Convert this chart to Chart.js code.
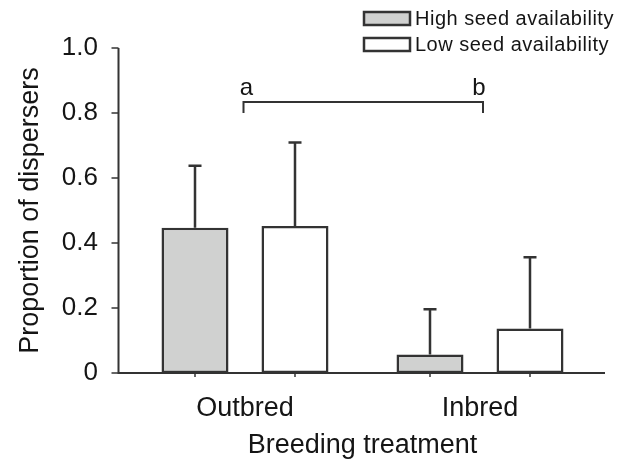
<!DOCTYPE html>
<html>
<head>
<meta charset="utf-8">
<script src="https://cdn.jsdelivr.net/npm/chart.js@4.4.1/dist/chart.umd.min.js"></script>
<style>
  html, body { margin: 0; padding: 0; background: #fff; }
  #wrap { width: 626px; height: 462px; }
</style>
</head>
<body>
<div id="wrap"><canvas id="dispersalChart" width="626" height="462"></canvas></div>
<script>
// categories and series
const treatments = ["Outbred", "Inbred"];
const seriesLabels = ["High seed availability", "Low seed availability"];
const highSeedMeans = [0.447, 0.057];
const lowSeedMeans = [0.452, 0.137];
// upper error bars (added on top of the mean)
const highSeedErrors = [0.191, 0.139];
const lowSeedErrors = [0.257, 0.219];
const yTicks = [0, 0.2, 0.4, 0.6, 0.8, 1.0];
const signifLetters = ["a", "b"];
const signifLevel = 0.834;
const signifTipLevel = 0.8;

const FONT = "'Liberation Sans', Arial, sans-serif";
const INK = "#151515";
const LINE = "#333";

// axes, error bars, bracket and legend drawn on top of the bars
const extrasPlugin = {
  id: "extras",
  afterDatasetsDraw: (chart) => {
    const { ctx, chartArea } = chart;
    const xs = chart.scales.x;
    const ys = chart.scales.y;
    const axisX = chartArea.left - 9;
    const axisY = chartArea.bottom;

    ctx.save();
    ctx.strokeStyle = LINE;
    ctx.lineCap = "butt";

    // error bars
    ctx.lineWidth = 2.5;
    chart.data.datasets.forEach((ds, di) => {
      const meta = chart.getDatasetMeta(di);
      meta.data.forEach((bar, i) => {
        const top = ys.getPixelForValue(ds.data[i] + ds.errors[i]);
        ctx.beginPath();
        ctx.moveTo(bar.x, bar.y);
        ctx.lineTo(bar.x, top);
        ctx.moveTo(bar.x - 6.5, top);
        ctx.lineTo(bar.x + 6.5, top);
        ctx.stroke();
      });
    });

    // axis lines
    ctx.lineWidth = 2;
    ctx.beginPath();
    ctx.moveTo(axisX, ys.getPixelForValue(1.0));
    ctx.lineTo(axisX, axisY);
    ctx.lineTo(chartArea.right + 7.5, axisY);
    ctx.stroke();

    // y tick marks
    ctx.lineWidth = 1.5;
    yTicks.forEach((v) => {
      const py = ys.getPixelForValue(v);
      ctx.beginPath();
      ctx.moveTo(axisX - 7, py);
      ctx.lineTo(axisX, py);
      ctx.stroke();
    });

    // small x ticks under every bar
    chart.data.datasets.forEach((ds, di) => {
      chart.getDatasetMeta(di).data.forEach((bar) => {
        ctx.beginPath();
        ctx.moveTo(bar.x, axisY);
        ctx.lineTo(bar.x, axisY + 4);
        ctx.stroke();
      });
    });

    // significance bracket
    const bx1 = xs.getPixelForValue(0) - 1.5;
    const bx2 = xs.getPixelForValue(1) + 3;
    const by = ys.getPixelForValue(signifLevel);
    const bt = ys.getPixelForValue(signifTipLevel);
    ctx.lineWidth = 2;
    ctx.beginPath();
    ctx.moveTo(bx1, bt);
    ctx.lineTo(bx1, by);
    ctx.lineTo(bx2, by);
    ctx.lineTo(bx2, bt);
    ctx.stroke();

    ctx.fillStyle = INK;
    ctx.font = `24px ${FONT}`;
    ctx.textAlign = "center";
    ctx.textBaseline = "alphabetic";
    ctx.fillText(signifLetters[0], bx1 + 3, by - 7);
    ctx.fillText(signifLetters[1], bx2 - 4, by - 7);

    // legend
    const rowsY = [18.5, 44.5];
    ctx.font = `20px ${FONT}`;
    ctx.letterSpacing = "0.5px";
    ctx.textAlign = "left";
    ctx.textBaseline = "middle";
    chart.data.datasets.forEach((ds, di) => {
      const ry = rowsY[di];
      ctx.fillStyle = ds.backgroundColor;
      ctx.fillRect(364, ry - 6.5, 46, 13);
      ctx.lineWidth = 2.5;
      ctx.strokeStyle = LINE;
      ctx.strokeRect(364, ry - 6.5, 46, 13);
      ctx.fillStyle = INK;
      ctx.fillText(ds.label, 415, ry + 1);
    });

    ctx.restore();
  },
};

const ctx = document.getElementById("dispersalChart").getContext("2d");

new Chart(ctx, {
  type: "bar",
  data: {
    labels: treatments,
    datasets: [
      {
        label: seriesLabels[0],
        data: highSeedMeans,
        errors: highSeedErrors,
        backgroundColor: "#d0d1d0",
        borderColor: LINE,
        borderWidth: 2.5,
        borderSkipped: false,
        barPercentage: 0.67,
        categoryPercentage: 0.851,
      },
      {
        label: seriesLabels[1],
        data: lowSeedMeans,
        errors: lowSeedErrors,
        backgroundColor: "#ffffff",
        borderColor: LINE,
        borderWidth: 2.5,
        borderSkipped: false,
        barPercentage: 0.67,
        categoryPercentage: 0.851,
      },
    ],
  },
  options: {
    responsive: false,
    animation: false,
    events: [],
    layout: { padding: { top: 48, right: 28.5, left: 0, bottom: 0 } },
    scales: {
      x: {
        grid: { display: false, drawTicks: false },
        border: { display: false },
        ticks: { color: INK, padding: 19, font: { family: FONT, size: 27 } },
        title: {
          display: true,
          text: "Breeding treatment",
          color: INK,
          font: { family: FONT, size: 27 },
          padding: { top: 0, bottom: 0 },
        },
        afterFit: (scale) => {
          scale.height = 89;
        },
      },
      y: {
        min: 0,
        max: 1,
        grid: { display: false, drawTicks: false },
        border: { display: false },
        afterBuildTicks: (scale) => {
          scale.ticks = yTicks.map((v) => ({ value: v }));
        },
        ticks: {
          color: INK,
          padding: 29.5,
          font: { family: FONT, size: 26 },
          callback: (v) => (v === 0 ? "0" : Number(v).toFixed(1)),
        },
        title: {
          display: true,
          text: "Proportion of dispersers",
          color: INK,
          font: { family: FONT, size: 27 },
          padding: { top: 14, bottom: 0 },
        },
        afterFit: (scale) => {
          scale.width = 127.5;
        },
      },
    },
    plugins: {
      legend: { display: false },
      tooltip: { enabled: false },
    },
  },
  plugins: [extrasPlugin],
});
</script>
</body>
</html>
